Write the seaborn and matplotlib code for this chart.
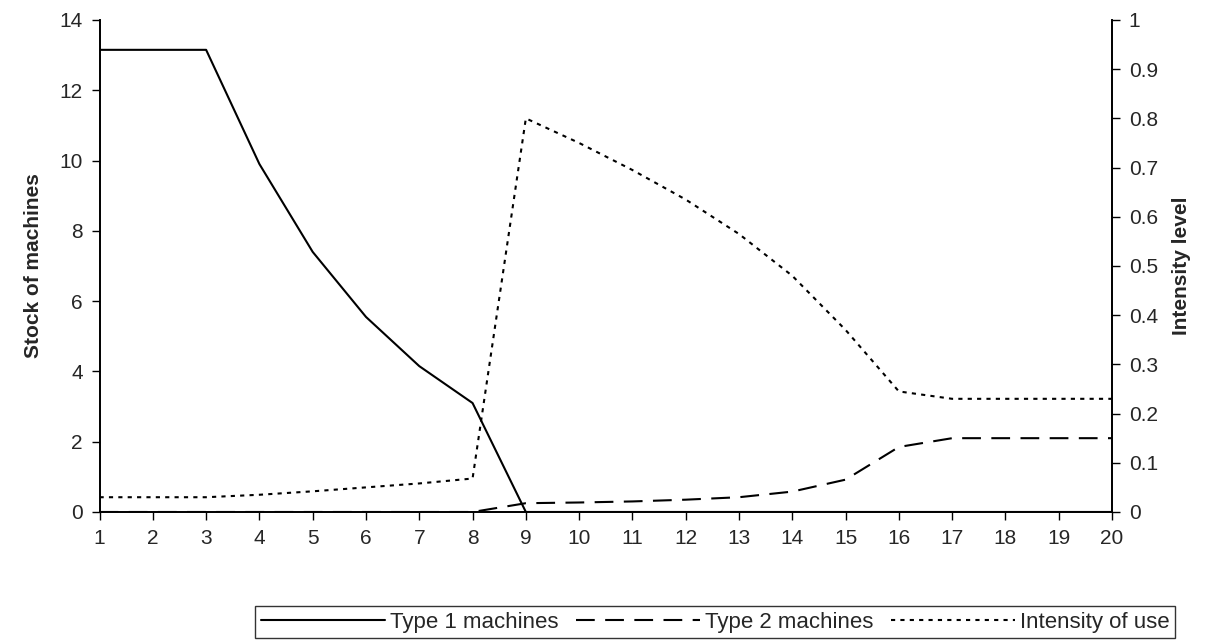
import matplotlib
matplotlib.use("Agg")
import matplotlib.pyplot as plt
import seaborn as sns
import pandas as pd

sns.set_theme(style="white")
plt.rcParams['font.family'] = ['Liberation Sans', 'DejaVu Sans']

periods = list(range(1, 21))
type1 = [13.15, 13.15, 13.15, 9.9, 7.4, 5.55, 4.15, 3.1, 0, 0, 0, 0, 0, 0, 0, 0, 0, 0, 0, 0]
type2 = [0, 0, 0, 0, 0, 0, 0, 0, 0.25, 0.27, 0.3, 0.35, 0.42, 0.58, 0.92, 1.85, 2.1, 2.1, 2.1, 2.1]
intensity = [0.03, 0.03, 0.03, 0.035, 0.042, 0.05, 0.058, 0.068, 0.8, 0.75, 0.695, 0.635, 0.565,
             0.48, 0.37, 0.245, 0.23, 0.23, 0.23, 0.23]

df = pd.DataFrame({"t": periods, "t1": type1, "t2": type2, "i": intensity})

fig = plt.figure(figsize=(12.14, 6.44), dpi=100)
ax = fig.add_axes([0.082, 0.205, 0.834, 0.764])
ax2 = ax.twinx()

sns.lineplot(data=df, x="t", y="t1", ax=ax, color="black", lw=1.5, legend=False)
sns.lineplot(data=df, x="t", y="t2", ax=ax, color="black", lw=1.5, legend=False)
ax.lines[1].set_dashes([9, 5])
sns.lineplot(data=df, x="t", y="i", ax=ax2, color="black", lw=1.5, legend=False)
ax2.lines[0].set_dashes([2, 2.5])

ax.set_xlim(1, 20)
ax.set_ylim(0, 14)
ax2.set_ylim(0, 1)
ax.set_xticks(periods)
ax.set_yticks(range(0, 15, 2))
ax2.set_yticks([i / 10 for i in range(11)])
ax2.set_yticklabels(["0"] + [f"0.{i}" for i in range(1, 10)] + ["1"])
for a in (ax, ax2):
    a.tick_params(labelsize=15, length=6, direction="out", color="black", width=1, pad=6)
    for s in a.spines.values():
        s.set_color("black")
ax.tick_params(axis="both", left=True, bottom=True)
ax2.tick_params(axis="y", right=True)
ax2.spines["top"].set_visible(False)
ax.spines["top"].set_visible(False)
ax.set_xlabel("")
ax.set_ylabel("Stock of machines", fontsize=15, fontweight="bold", labelpad=12)
ax2.set_ylabel("Intensity level", fontsize=15, fontweight="bold", labelpad=10)

handles = ax.lines[:2] + ax2.lines[:1]
leg = fig.legend(handles, ["Type 1 machines", "Type 2 machines", "Intensity of use"],
                 loc="center", bbox_to_anchor=(0.589, 0.034), ncol=3, frameon=True,
                 fancybox=False, edgecolor="black", fontsize=16, handlelength=5.6,
                 columnspacing=0.8, handletextpad=0.2, borderpad=0.25)
leg.get_frame().set_linewidth(1)

fig.savefig("out.png", dpi=100)
